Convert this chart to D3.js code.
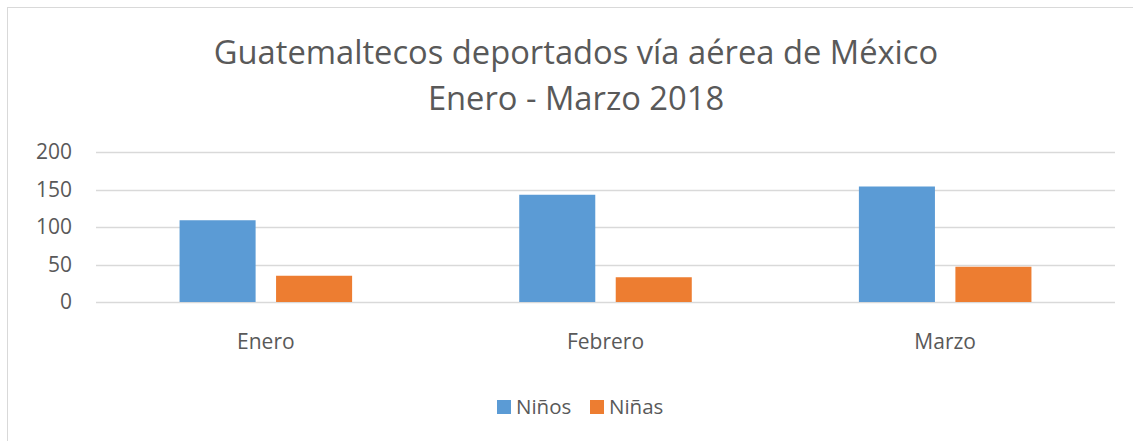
<!DOCTYPE html>
<html>
<head>
<meta charset="utf-8">
<script src="https://cdn.jsdelivr.net/npm/d3@7"></script>
<style>
body { margin: 0; background: #fff; }
svg { display: block; font-family: "Open Sans", sans-serif; }
</style>
</head>
<body>
<svg id="chart"></svg>
<script>
const months = ['Enero', 'Febrero', 'Marzo'];
const series = ['Niños', 'Niñas'];
const ninos = [109, 143, 154];
const ninas = [35, 33, 47];
const yTicks = [0, 50, 100, 150, 200];
const titleLines = ['Guatemaltecos deportados vía aérea de México', 'Enero - Marzo 2018'];
const colors = ['#5b9bd5', '#ed7d31'];

const width = 1133, height = 441;
const margin = {top: 152, right: 18, bottom: 139, left: 96};

const svg = d3.select('#chart')
    .attr('width', width)
    .attr('height', height);

// chart frame
svg.append('rect')
    .attr('x', 7.5).attr('y', 7.5)
    .attr('width', width).attr('height', height)
    .attr('fill', 'none')
    .attr('stroke', '#d9d9d9');

const inner_width = width - margin.left - margin.right;
const inner_height = height - margin.top - margin.bottom;

const chart = svg.append('g')
    .attr('transform', `translate(${margin.left}, ${margin.top})`);

const x0 = d3.scaleBand()
    .domain(months)
    .range([0, inner_width])
    .paddingInner(0.492)
    .paddingOuter(0.246);

const x1 = d3.scaleBand()
    .domain(series)
    .range([0, x0.bandwidth()])
    .paddingInner(0.212)
    .paddingOuter(0);

const yscale = d3.scaleLinear()
    .domain([0, 200])
    .range([inner_height, 0]);

// grid lines
chart.append('g')
    .selectAll('line')
    .data(yTicks)
    .join('line')
    .attr('x1', 0)
    .attr('x2', inner_width)
    .attr('y1', d => Math.round(yscale(d)) + 0.5)
    .attr('y2', d => Math.round(yscale(d)) + 0.5)
    .attr('stroke', '#d9d9d9')
    .attr('stroke-width', 1.5);

// y axis labels
const yaxis = d3.axisLeft(yscale).tickValues(yTicks).tickSize(0).tickPadding(24);
const yaxis_group = chart.append('g').call(yaxis)
    .attr('font-family', null)
    .attr('font-size', null);
yaxis_group.select('.domain').remove();
yaxis_group.selectAll('text')
    .style('font-size', '21px')
    .attr('fill', '#595959');

// bars
const rows = months.map((m, i) => ({month: m, values: [ninos[i], ninas[i]]}));
const groups = chart.selectAll('.grp')
    .data(rows)
    .join('g')
    .attr('class', 'grp')
    .attr('transform', d => `translate(${x0(d.month)}, 0)`);

groups.selectAll('rect')
    .data(d => series.map((s, j) => ({key: s, value: d.values[j], c: colors[j]})))
    .join('rect')
    .attr('x', d => x1(d.key))
    .attr('y', d => yscale(d.value))
    .attr('width', x1.bandwidth())
    .attr('height', d => inner_height - yscale(d.value))
    .attr('fill', d => d.c);

// x axis labels
const xaxis = d3.axisBottom(x0).tickSize(0).tickPadding(32);
const xaxis_group = chart.append('g')
    .attr('transform', `translate(0, ${inner_height})`)
    .call(xaxis)
    .attr('font-family', null)
    .attr('font-size', null);
xaxis_group.select('.domain').remove();
xaxis_group.selectAll('text')
    .style('font-size', '21px')
    .attr('fill', '#595959');

// title
svg.append('g').selectAll('text')
    .data(titleLines)
    .join('text')
    .attr('x', 576)
    .attr('y', (d, i) => 64 + i * 46)
    .attr('text-anchor', 'middle')
    .style('font-size', '32.7px')
    .attr('fill', '#595959')
    .text(d => d);

// legend
const legend = svg.append('g');
const legendX = [497, 590];
series.forEach((s, i) => {
    legend.append('rect')
        .attr('x', legendX[i]).attr('y', 400)
        .attr('width', 14).attr('height', 14)
        .attr('fill', colors[i]);
    legend.append('text')
        .attr('x', legendX[i] + 19).attr('y', 414)
        .style('font-size', '20.5px')
        .attr('fill', '#595959')
        .text(s);
});
</script>
</body>
</html>
